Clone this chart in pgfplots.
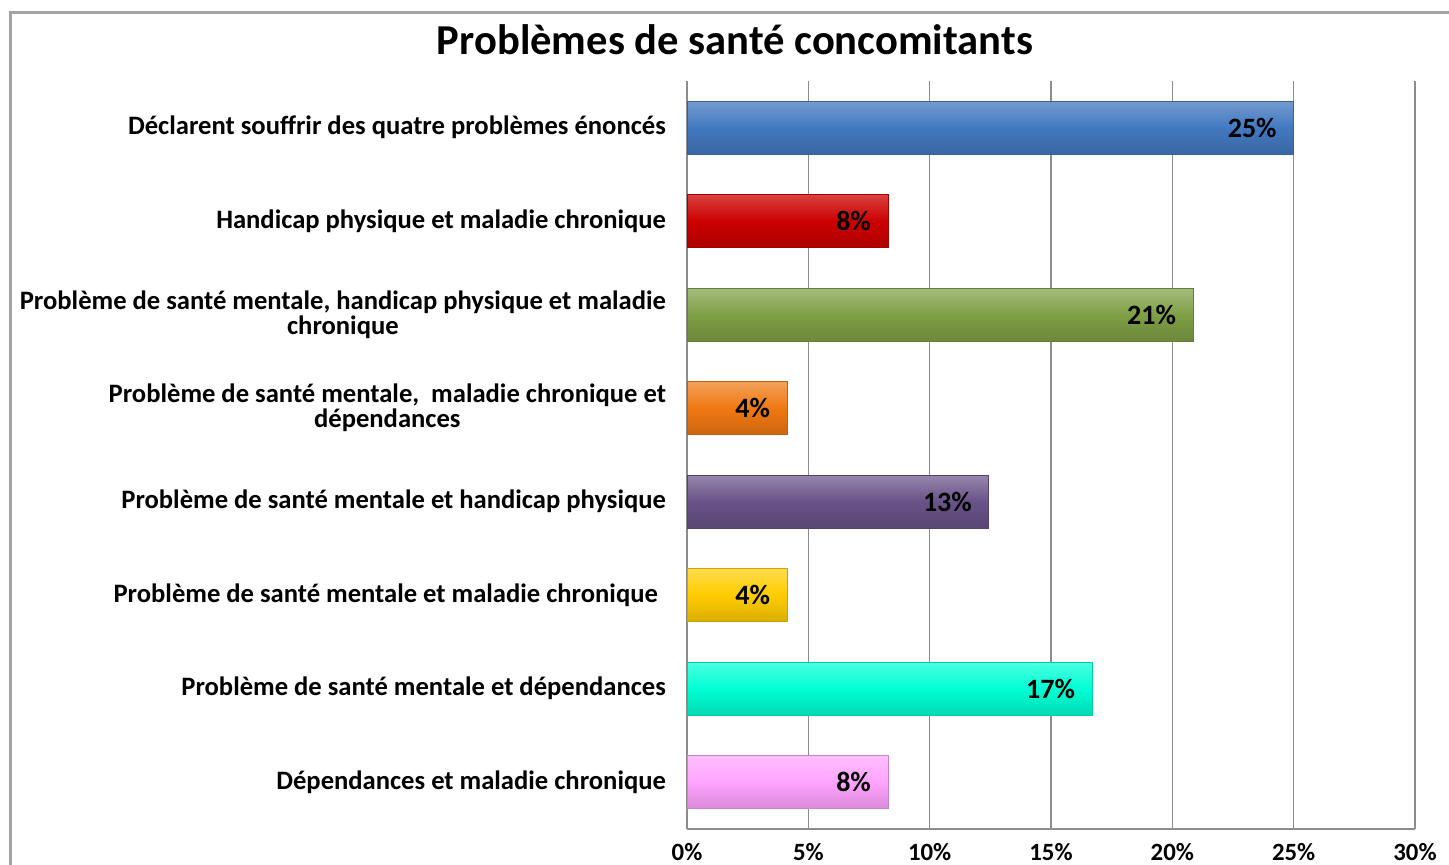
\documentclass[border=0pt]{standalone}
\usepackage{pgfplots}
\pgfplotsset{compat=1.18}
\usepackage{fontspec}
\setmainfont{Carlito}
\definecolor{cBlue}{HTML}{4379C0}
\definecolor{cRed}{HTML}{CC0000}
\definecolor{cGreen}{HTML}{7F9F45}
\definecolor{cOrange}{HTML}{F07812}
\definecolor{cPurple}{HTML}{695288}
\definecolor{cYellow}{HTML}{FFCC00}
\definecolor{cCyan}{HTML}{00FFD4}
\definecolor{cPink}{HTML}{FFA3FF}
\definecolor{gridgray}{HTML}{8C8C8C}
\begin{document}
\begin{tikzpicture}
\useasboundingbox (0,0) rectangle (724.5pt,432.5pt);
\begin{scope}
\clip (0,0) rectangle (724.5pt,432.5pt);
\draw[gridgray!80, line width=1.5pt] (5pt,-2pt) -- (5pt,426pt) -- (730pt,426pt);
\end{scope}
\node[font=\bfseries\fontsize{21.3}{24}\selectfont] at (367.5pt,412.5pt) {Problèmes de santé concomitants};
\begin{axis}[
  at={(343.5pt,18pt)}, anchor=south west,
  scale only axis, width=364pt, height=374pt,
  xmin=0, xmax=30, ymin=-0.5, ymax=7.5,
  y dir=reverse,
  xtick={0,5,10,15,20,25,30},
  xticklabels={0\%,5\%,10\%,15\%,20\%,25\%,30\%},
  ytick={0,1,2,3,4,5,6,7},
  yticklabels={
    Déclarent souffrir des quatre problèmes énoncés,
    Handicap physique et maladie chronique,
    {Problème de santé mentale, handicap physique et maladie\\chronique},
    {Problème de santé mentale,~ maladie chronique et\\dépendances},
    Problème de santé mentale et handicap physique,
    Problème de santé mentale et maladie chronique\hspace{4pt},
    Problème de santé mentale et dépendances,
    Dépendances et maladie chronique},
  yticklabel style={font=\bfseries\fontsize{13.3}{12.5}\selectfont, align=center, xshift=-7pt},
  xticklabel style={font=\bfseries\fontsize{12.4}{13}\selectfont, yshift=-3.5pt},
  major tick length=0pt,
  axis lines*=left,
  axis line style={gridgray, line width=0.8pt, -},
  xmajorgrids, grid style={gridgray, line width=0.8pt},
  xbar, bar width=26.5pt, bar shift=0pt,
  point meta=explicit symbolic,
  nodes near coords,
  every node near coord/.append style={anchor=east, xshift=-5pt, font=\bfseries\fontsize{14}{15}\selectfont, black},
]
\addplot[draw=cBlue!80!black, top color=cBlue!75!white, bottom color=cBlue!85!black, middle color=cBlue] coordinates {(25.0,0) [25\%]};
\addplot[draw=cRed!80!black, top color=cRed!75!white, bottom color=cRed!85!black, middle color=cRed] coordinates {(8.28,1) [8\%]};
\addplot[draw=cGreen!80!black, top color=cGreen!70!white, bottom color=cGreen!85!black, middle color=cGreen] coordinates {(20.85,2) [21\%]};
\addplot[draw=cOrange!80!black, top color=cOrange!70!white, bottom color=cOrange!85!black, middle color=cOrange] coordinates {(4.12,3) [4\%]};
\addplot[draw=cPurple!80!black, top color=cPurple!70!white, bottom color=cPurple!85!black, middle color=cPurple] coordinates {(12.44,4) [13\%]};
\addplot[draw=cYellow!80!black, top color=cYellow!70!white, bottom color=cYellow!85!black, middle color=cYellow] coordinates {(4.12,5) [4\%]};
\addplot[draw=cCyan!80!black, top color=cCyan!70!white, bottom color=cCyan!85!black, middle color=cCyan] coordinates {(16.69,6) [17\%]};
\addplot[draw=cPink!80!black, top color=cPink!70!white, bottom color=cPink!85!black, middle color=cPink] coordinates {(8.28,7) [8\%]};
\end{axis}
\end{tikzpicture}
\end{document}
